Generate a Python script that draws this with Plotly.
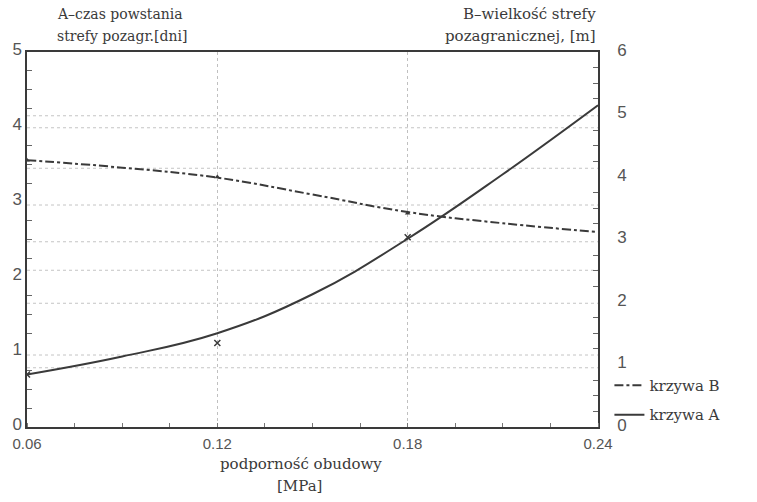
import plotly.graph_objects as go

# data
x_vals = [0.06, 0.09, 0.12, 0.15, 0.18, 0.21, 0.24]
krzywa_A = [0.70, 0.94, 1.25, 1.77, 2.51, 3.37, 4.29]
krzywa_B = [4.27, 4.15, 3.99, 3.72, 3.44, 3.26, 3.12]
pts_x = [0.06, 0.12, 0.18]
pts_A = [0.70, 1.12, 2.53]
pts_B = [4.27, 4.00, 3.42]
grid_levels = [0.79, 0.96, 1.65, 2.09, 2.47, 2.96, 3.45, 3.99, 4.15]
x_ticks = [0.06, 0.12, 0.18, 0.24]
x_tick_text = ["0.06", "0.12", "0.18", "0.24"]

ink = "#3a3a3a"
serif = "DejaVu Serif, Liberation Serif, serif"
sans = "Liberation Sans, DejaVu Sans, sans-serif"

fig = go.Figure()
fig.add_trace(go.Scatter(x=x_vals, y=krzywa_B, yaxis="y2", mode="lines",
                         line=dict(color=ink, width=2, dash="dashdot", shape="spline", smoothing=1.2),
                         name="krzywa B", legendgroup="B"))
fig.add_trace(go.Scatter(x=x_vals, y=krzywa_A, mode="lines",
                         line=dict(color=ink, width=2, shape="spline", smoothing=1.2),
                         name="krzywa A", legendgroup="A"))
fig.add_trace(go.Scatter(x=pts_x, y=pts_A, mode="markers", showlegend=False,
                         marker=dict(symbol="x-thin", size=6, color=ink,
                                     line=dict(width=1.5, color=ink))))
fig.add_trace(go.Scatter(x=pts_x, y=pts_B, yaxis="y2", mode="markers", showlegend=False,
                         marker=dict(symbol="triangle-up", size=5, color=ink)))

for g in grid_levels:
    fig.add_shape(type="line", xref="x", yref="y", x0=0.06, x1=0.24, y0=g, y1=g,
                  line=dict(color="#c4c4c4", width=1, dash="dot"), layer="below")

fig.update_layout(
    width=757, height=502,
    margin=dict(l=27, r=159, t=52, b=75),
    plot_bgcolor="white", paper_bgcolor="white",
    xaxis=dict(range=[0.06, 0.24], tickvals=x_ticks, ticktext=x_tick_text,
               showgrid=True, gridcolor="#c0c0c0", griddash="dot", gridwidth=1,
               showline=True, linecolor=ink, linewidth=1.5, mirror=True,
               ticks="", zeroline=False, ticklabelstandoff=2,
               tickfont=dict(family=sans, size=15, color="#555"),
               minor=dict(dtick=0.015, ticks="inside", ticklen=4, tickcolor="#777", showgrid=False)),
    yaxis=dict(range=[0, 5], dtick=1, showgrid=False, zeroline=False,
               showline=True, linecolor=ink, linewidth=1.5, ticklabelshift=-3,
               ticks="", tickfont=dict(family=sans, size=17, color="#555"),
               minor=dict(dtick=0.25, ticks="inside", ticklen=5, tickcolor="#666")),
    yaxis2=dict(range=[0, 6], dtick=1, overlaying="y", side="right",
                showgrid=False, zeroline=False, showline=True, linecolor=ink, linewidth=1.5,
                ticks="", ticklabelstandoff=14, ticklabelshift=-2,
                tickfont=dict(family=sans, size=17, color="#555"),
                minor=dict(dtick=0.25, ticks="inside", ticklen=5, tickcolor="#666")),
    legend=dict(x=1.02, y=0.155, xanchor="left", yanchor="top",
                font=dict(family=serif, size=15, color=ink),
                bgcolor="rgba(0,0,0,0)", traceorder="grouped", tracegroupgap=7,
                itemwidth=30),
    showlegend=True,
)

def label(text, x, y, xanchor, yshift, xshift=0, size=15):
    fig.add_annotation(xref="paper", yref="paper", x=x, y=y, yshift=yshift, xshift=xshift,
                       xanchor=xanchor, yanchor="middle", showarrow=False,
                       align=xanchor if xanchor != "center" else "center",
                       text=text, font=dict(family=serif, size=size, color=ink))

label("A\u2013czas powstania", 0.0, 1.0, "left", 38, 28, 14)
label("strefy pozagr.[dni]", 0.0, 1.0, "left", 16, 28, 14)
label("B\u2013wielkość strefy", 1.0, 1.0, "right", 38)
label("pozagranicznej, [m]", 1.0, 1.0, "right", 16)
label("podporność obudowy", 0.48, 0.0, "center", -37)
label("[MPa]", 0.477, 0.0, "center", -59)

fig.write_html("out.html")
